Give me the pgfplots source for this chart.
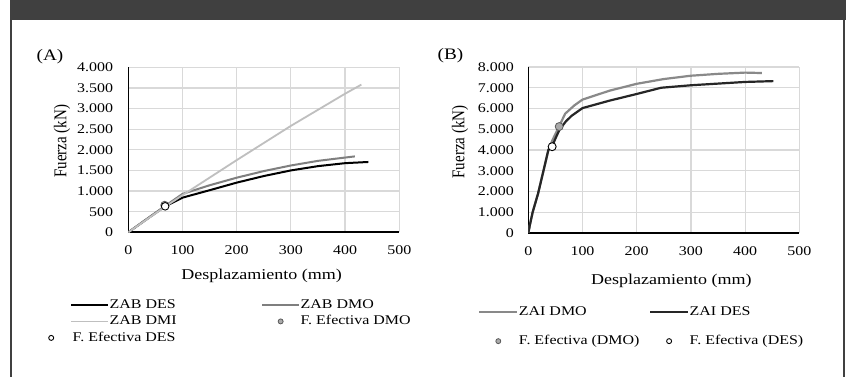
\documentclass[border=0pt]{standalone}
\usepackage{fontspec}
\setmainfont{Liberation Serif}
\usepackage{graphicx}
\usepackage{pgfplots}
\pgfplotsset{compat=1.18}
\definecolor{hdr}{RGB}{64,64,64}
\definecolor{gridc}{RGB}{217,217,217}
\definecolor{dmo}{RGB}{127,127,127}
\definecolor{dmi}{RGB}{191,191,191}
\definecolor{mkfill}{RGB}{170,170,170}
\definecolor{mkedge}{RGB}{90,90,90}
\definecolor{zdes}{RGB}{38,38,38}
\definecolor{zdmo}{RGB}{137,137,137}
\newcommand\sx[1]{\scalebox{1.2}[1]{#1}}

\pgfplotsset{
  geomA/.style={scale only axis, width=271bp, height=165bp,
    at={(128.3bp,144.7bp)}, anchor=south west,
    xmin=0, xmax=500, ymin=0, ymax=4000},
  excel/.style={
    xtick={0,100,...,500},
    axis x line*=bottom, axis y line*=left,
    axis line style={black, line width=1.6bp, -},
    grid=major, major grid style={gridc, line width=1.2bp},
    major tick length=0pt,
    tick label style={font=\fontsize{13.3bp}{16bp}\selectfont, inner sep=0pt},
    /pgf/number format/assume math mode=true,
    /pgf/number format/1000 sep={.},
    xticklabel={\sx{\pgfmathprintnumber{\tick}}},
    yticklabel={\sx{\pgfmathprintnumber{\tick}}},
    yticklabel style={anchor=east, xshift=-15bp},
    xticklabel style={anchor=north, yshift=-13bp},
    xlabel style={font=\fontsize{15bp}{18bp}\selectfont, anchor=base},
    ylabel style={anchor=center},
    legend cell align=left,
  },
  lineleg/.style={legend image code/.code={\draw[##1] (0bp,0bp) -- (#1,0bp);}},
  markleg/.style 2 args={legend image code/.code={%
      \path[draw=none,fill=none] (0bp,0bp) (#1,0bp);
      \draw[##1,mark size=2.5bp] plot coordinates {(#2,0bp)};}},
}

\begin{document}
\begin{tikzpicture}
\useasboundingbox (0,0) rectangle (846bp,377bp);
\fill[white] (0,0) rectangle (846bp,377bp);
\fill[hdr] (10bp,357bp) rectangle (846bp,377bp);
\draw[hdr, line width=2bp] (11bp,0) -- (11bp,377bp);
\draw[hdr, line width=2bp] (844bp,0) -- (844bp,377bp);

\node[font=\fontsize{16bp}{19bp}\selectfont] at (50bp,320bp) {\sx{(A)}};
\node[font=\fontsize{16bp}{19bp}\selectfont] at (450.5bp,321bp) {\sx{(B)}};

% ---------------- Panel A ----------------
\begin{axis}[geomA, excel,
  ytick={0,500,...,4000},
  xlabel={\sx{Desplazamiento (mm)}},
  xlabel style={at={(axis description cs:0.492,0)}, yshift=-46.7bp},
  ylabel={\scalebox{1}[1.2]{\fontsize{15bp}{18bp}\selectfont Fuerza (kN)}},
  ylabel style={at={(axis description cs:-0.2446,0.551)}},
  legend style={draw=none, fill=none, inner sep=0pt,
    at={(axis description cs:-0.2151,-0.401)}, anchor=north west,
    font=\fontsize{13.3bp}{16bp}\selectfont,
    nodes={inner xsep=0.5bp, inner ysep=0pt, text height=9.5bp, text depth=3bp},
    row sep=4bp,
    /tikz/every odd column/.style={column sep=0pt},
    /tikz/every even column/.style={column sep=84bp}},
  legend columns=2,
]
\addplot[black, line width=2bp, lineleg=37bp] coordinates {
 (0,0) (30,280) (68,630) (100,840) (150,1020) (200,1204) (250,1364)
 (300,1500) (350,1604) (400,1676) (443,1705)};
\addlegendentry{\sx{ZAB DES}}
\addplot[dmo, line width=2bp, lineleg=37bp] coordinates {
 (0,0) (30,285) (68,640) (100,930) (150,1140) (200,1324) (250,1484)
 (300,1620) (350,1732) (400,1812) (418,1840)};
\addlegendentry{\sx{ZAB DMO}}
\addplot[dmi, line width=1.8bp, lineleg=37bp] coordinates {
 (0,0) (68,620) (100,900) (200,1750) (300,2580) (400,3360) (430,3580)};
\addlegendentry{\sx{ZAB DMI}}
\addplot[only marks, mark=*, mark size=3.8bp,
  mark options={fill=mkfill, draw=mkedge, line width=0.8bp}, markleg={37bp}{18.5bp}]
  coordinates {(67,660)};
\addlegendentry{\sx{F. Efectiva DMO}}
\end{axis}
% second layer of panel A: same axis, only the DES marker and its own legend row
\begin{axis}[geomA, hide axis,
  legend style={draw=none, fill=none, inner sep=0pt,
    at={(axis description cs:-0.3627,-0.640)}, anchor=west,
    font=\fontsize{13.3bp}{16bp}\selectfont,
    nodes={inner xsep=0.5bp, inner ysep=0pt, text height=9.5bp, text depth=3bp},
    /tikz/every odd column/.style={column sep=0pt}},
  legend cell align=left,
]
\addplot[only marks, mark=*, mark size=3.8bp,
  mark options={fill=white, draw=black, line width=0.9bp}, markleg={42bp}{21bp}]
  coordinates {(68,630)};
\addlegendentry{\sx{F. Efectiva DES}}
\end{axis}

% ---------------- Panel B ----------------
\begin{axis}[excel, scale only axis, width=271bp, height=166bp,
  at={(528.3bp,144bp)}, anchor=south west,
  xmin=0, xmax=500, ymin=0, ymax=8000, ytick={0,1000,...,8000},
  yticklabel style={xshift=0.7bp},
  xlabel={\sx{Desplazamiento (mm)}},
  xlabel style={at={(axis description cs:0.528,0)}, yshift=-51bp},
  ylabel={\scalebox{1}[1.2]{\fontsize{15bp}{18bp}\selectfont Fuerza (kN)}},
  ylabel style={at={(axis description cs:-0.252,0.548)}},
  legend style={draw=none, fill=none, inner sep=0pt,
    at={(axis description cs:-0.1856,-0.438)}, anchor=north west,
    font=\fontsize{13.3bp}{16bp}\selectfont,
    nodes={inner xsep=0.5bp, inner ysep=0pt, text height=9.5bp, text depth=3bp},
    row sep=16.5bp,
    /tikz/every odd column/.style={column sep=0pt},
    /tikz/every even column/.style={column sep=9bp}},
  legend columns=2,
]
\addplot[zdmo, line width=2.2bp, lineleg=38bp] coordinates {
 (0,0) (3,400) (8,1000) (18,1900) (28,3000) (37,4000) (45,4500) (57,5150)
 (68,5750) (85,6150) (100,6430) (150,6860) (200,7190) (250,7420) (300,7580)
 (350,7670) (400,7730) (431,7710)};
\addlegendentry{\sx{ZAI DMO}}
\addplot[zdes, line width=2.2bp, lineleg=38bp] coordinates {
 (0,0) (3,400) (8,1000) (18,1900) (28,3000) (37,4000) (44,4170) (50,4550)
 (58,5000) (70,5400) (80,5650) (100,6020) (150,6380) (200,6700) (245,7000)
 (300,7120) (400,7280) (452,7320)};
\addlegendentry{\sx{ZAI DES}}
\addplot[only marks, mark=*, mark size=4bp,
  mark options={fill=mkfill, draw=mkedge, line width=0.8bp}, markleg={38bp}{19bp}]
  coordinates {(57,5130)};
\addlegendentry{\sx{F. Efectiva (DMO)}}
\addplot[only marks, mark=*, mark size=4bp,
  mark options={fill=white, draw=black, line width=0.9bp}, markleg={38bp}{19bp}]
  coordinates {(44,4160)};
\addlegendentry{\sx{F. Efectiva (DES)}}
\end{axis}
\end{tikzpicture}
\end{document}
